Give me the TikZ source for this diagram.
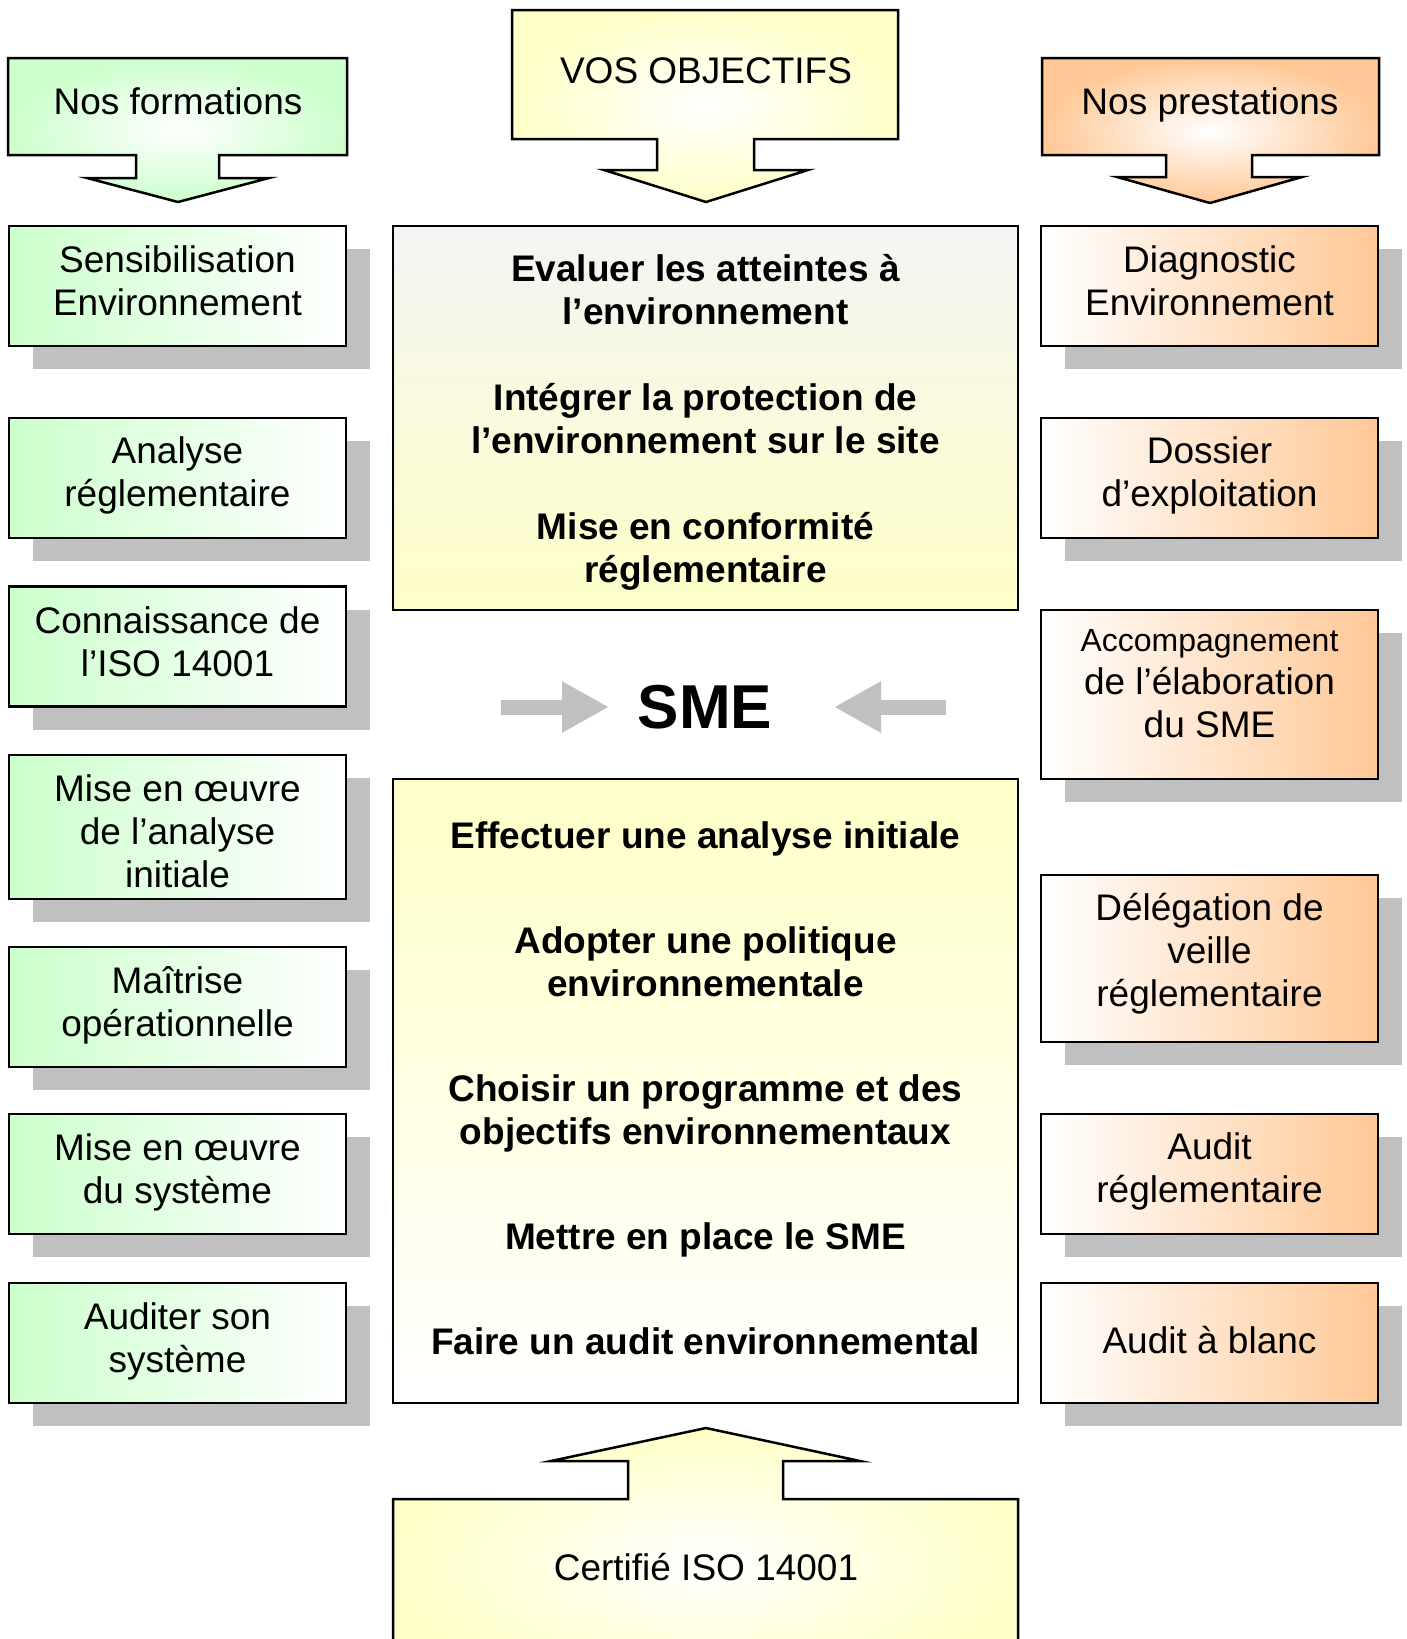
\documentclass[tikz,border=0pt]{standalone}
\usepackage{fontspec}
\setmainfont{Liberation Sans}
\usepackage{tikz}
\usetikzlibrary{arrows.meta, shadows}
\definecolor{formgreen}{HTML}{CCFFCC}
\definecolor{prestorange}{HTML}{FFC896}
\definecolor{objyellow}{HTML}{FFFFC8}
\definecolor{topgray}{HTML}{F4F4F4}
\definecolor{shadowgray}{HTML}{C0C0C0}
\definecolor{smegray}{HTML}{C0C0C0}

\tikzset{
  box/.style={draw, line width=2.5pt, inner sep=0pt, align=center,
    minimum width=337pt, minimum height=120pt, text depth=10pt,
    font=\fontsize{37}{43}\selectfont,
    drop shadow={shadow xshift=24pt, shadow yshift=-23pt, fill=shadowgray, opacity=1}},
  formbox/.style={box, left color=formgreen, right color=white},
  prestbox/.style={box, left color=white, right color=prestorange},
  goalbox/.style={draw, line width=2.5pt, inner sep=0pt, align=center,
    minimum width=625pt, font=\bfseries\fontsize{37}{43}\selectfont},
  callout/.style={draw, line width=2.5pt, line join=miter},
  smearrow/.style={smegray, line width=15pt, -{Triangle[length=47pt, width=48pt]}}
}

\begin{document}
\begin{tikzpicture}[x=1pt, y=-1pt]
  \useasboundingbox (0,0) rectangle (1407,1639);
  \clip (0,0) rectangle (1407,1639);

  % Headers
  \shade[callout, inner color=white, outer color=formgreen]
    (8,58) -- (347,58) -- (347,155) -- (219,155) -- (219,178) -- (269,178)
    -- (178,202) -- (87,178) -- (136,178) -- (136,155) -- (8,155) -- cycle;
  \node[font=\fontsize{37}{43}\selectfont] (formations) at (178,101) {Nos formations};

  \shade[callout, inner color=white, outer color=objyellow]
    (512,10) -- (898,10) -- (898,139) -- (754,139) -- (754,170) -- (808,170)
    -- (706,202) -- (604,170) -- (657,170) -- (657,139) -- (512,139) -- cycle;
  \node[font=\fontsize{37}{43}\selectfont] (objectifs) at (706,71) {VOS OBJECTIFS};

  \shade[callout, inner color=white, outer color=prestorange]
    (1042,58) -- (1379,58) -- (1379,155) -- (1252,155) -- (1252,177) -- (1302,177)
    -- (1210,203) -- (1117,177) -- (1166,177) -- (1166,155) -- (1042,155) -- cycle;
  \node[font=\fontsize{37}{43}\selectfont, text depth=0pt] (prestations) at (1210,101) {Nos prestations};

  % Formations
  \node[formbox] (sensib) at (177.5,286) {Sensibilisation\\Environnement};
  \node[formbox, text depth=12pt] (analyse) at (177.5,478) {Analyse\\réglementaire};
  \node[formbox] (connais) at (177.5,646.5) {Connaissance de\\l’ISO 14001};
  \node[formbox, minimum height=144pt, text height=121pt, text depth=0pt] (oeuvreanalyse) at (177.5,827) {Mise en œuvre\\de l’analyse\\initiale};
  \node[formbox] (maitrise) at (177.5,1007) {Maîtrise\\opérationnelle};
  \node[formbox] (oeuvresys) at (177.5,1174) {Mise en œuvre\\du système};
  \node[formbox] (auditer) at (177.5,1343) {Auditer son\\système};

  % Prestations
  \node[prestbox] (diag) at (1209.5,286) {Diagnostic\\Environnement};
  \node[prestbox, text depth=12pt] (dossier) at (1209.5,478) {Dossier\\d’exploitation};
  \node[prestbox, minimum height=169pt, text depth=22pt] (accomp) at (1209.5,694.5)
    {{\fontsize{32}{40}\selectfont Accompagnement}\\de l’élaboration\\du SME};
  \node[prestbox, minimum height=167pt, text depth=18pt] (veille) at (1209.5,958.5) {Délégation de\\veille\\réglementaire};
  \node[prestbox, text depth=12pt] (auditregl) at (1209.5,1174) {Audit\\réglementaire};
  \node[prestbox, text depth=6pt] (blanc) at (1209.5,1343) {Audit à blanc};

  % Objectifs
  \node[goalbox, minimum height=384pt, text depth=0pt, top color=topgray, bottom color=objyellow] (evaluer) at (705.5,418)
    {Evaluer les atteintes à\\l’environnement\\[43pt]
     Intégrer la protection de\\l’environnement sur le site\\[43pt]
     Mise en conformité\\réglementaire};

  \node[font=\bfseries\fontsize{62}{70}\selectfont] (sme) at (705,707) {SME};
  \coordinate (lstart) at (501,707);
  \coordinate (ltip) at (609,707);
  \coordinate (rstart) at (946,707);
  \coordinate (rtip) at (834,707);
  \draw[smearrow] (lstart) -- (ltip);
  \draw[smearrow] (rstart) -- (rtip);

  \node[goalbox, minimum height=624pt, text depth=5pt, top color=objyellow, bottom color=white] (demarche) at (705.5,1091)
    {Effectuer une analyse initiale\\[62pt]
     Adopter une politique\\environnementale\\[62pt]
     Choisir un programme et des\\objectifs environnementaux\\[62pt]
     Mettre en place le SME\\[62pt]
     Faire un audit environnemental};

  % Certification
  \shade[callout, inner color=white, outer color=objyellow]
    (393,1700) -- (393,1499) -- (628,1499) -- (628,1461) -- (551,1461)
    -- (706,1428) -- (860,1461) -- (783,1461) -- (783,1499) -- (1018,1499)
    -- (1018,1700) -- cycle;
  \node[font=\fontsize{37}{43}\selectfont] (certif) at (706,1567) {Certifié ISO 14001};
\end{tikzpicture}
\end{document}
